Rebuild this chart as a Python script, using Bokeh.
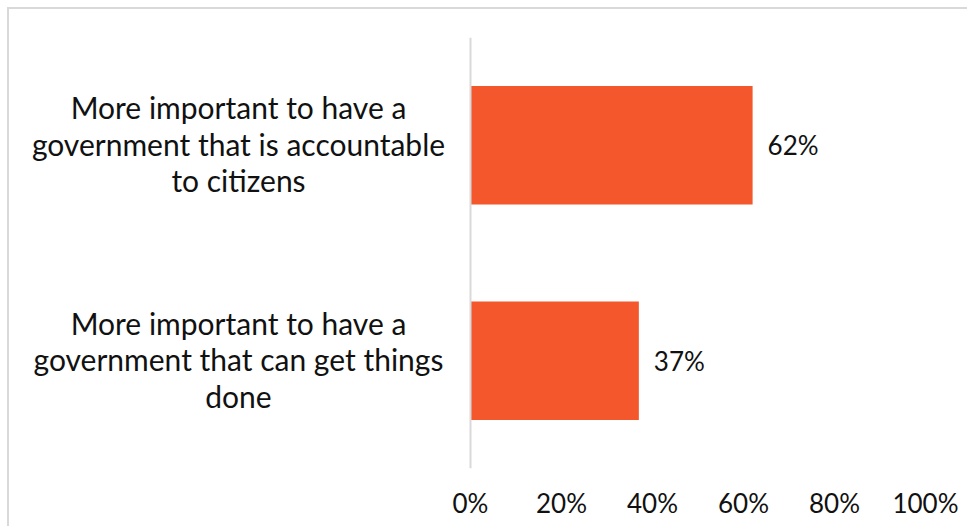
from bokeh.plotting import figure
from bokeh.models import ColumnDataSource, FactorRange, Range1d, LabelSet, FixedTicker, NumeralTickFormatter, Span
from bokeh.core.properties import value
from bokeh.embed import file_html
from bokeh.resources import INLINE

categories = [
    "More important to have a\ngovernment that is accountable\nto citizens",
    "More important to have a\ngovernment that can get things\ndone",
]
values = [0.62, 0.37]
value_labels = ["62%", "37%"]
x_ticks = [0, 0.2, 0.4, 0.6, 0.8, 1.0]

FONT = "Lato"
FS_NUM = "26px"
FS_CAT = "30px"
TXT = "#111111"
BAR = "#F4572B"
LINE_H = 36.5
PX_PER_UNIT = 455          # frame pixels for 0..100%
LABEL_AREA = 461           # frame pixels left of 0%

p = figure(
    width=960, height=519,
    y_range=FactorRange(factors=list(reversed(categories))),
    x_range=Range1d(-LABEL_AREA / PX_PER_UNIT, 1),
    output_backend="svg", toolbar_location=None,
    min_border_left=0, min_border_right=44, min_border_top=28, min_border_bottom=60,
)
p.styles = {"margin-left": "7px", "margin-top": "7px",
            "border-top": "2px solid #d9d9d9", "border-left": "2px solid #d9d9d9"}
p.outline_line_color = None
p.grid.grid_line_color = None
p.background_fill_color = "white"
p.border_fill_color = "white"

src = ColumnDataSource(dict(cat=categories, val=values, lab=value_labels))
p.hbar(y="cat", right="val", left=0, height=0.55, source=src, fill_color=BAR, line_color=None)

# vertical axis line at 0%
p.add_layout(Span(location=0, dimension="height", line_color="#d9d9d9", line_width=2))

p.add_layout(LabelSet(x="val", y="cat", text="lab", source=src, x_offset=15,
                      text_align="left", text_baseline="middle",
                      text_font=value(FONT), text_font_size=value(FS_NUM), text_color=value(TXT)))

# category labels, one row per line, centred
lx, ly, lt, lo = [], [], [], []
for c in categories:
    lines = c.split("\n")
    n = len(lines)
    for i, ln in enumerate(lines):
        lx.append(0)
        ly.append(c)
        lt.append(ln)
        lo.append((i - (n - 1) / 2) * LINE_H - 1.5)
csrc = ColumnDataSource(dict(x=lx, y=ly, t=lt, o=lo))
p.text(x="x", y="y", text="t", y_offset="o", x_offset=-232, source=csrc,
       text_align="center", text_baseline="middle",
       text_font=value(FONT), text_font_size=value(FS_CAT), text_color=TXT)

xa = p.xaxis[0]
xa.ticker = FixedTicker(ticks=x_ticks)
xa.formatter = NumeralTickFormatter(format="0%")
xa.axis_line_color = None
xa.major_tick_line_color = None
xa.minor_tick_line_color = None
xa.major_label_standoff = 12
xa.major_label_text_font = FONT
xa.major_label_text_font_size = FS_NUM
xa.major_label_text_color = TXT

p.yaxis.visible = False

open("out.html", "w").write(file_html(p, INLINE))
